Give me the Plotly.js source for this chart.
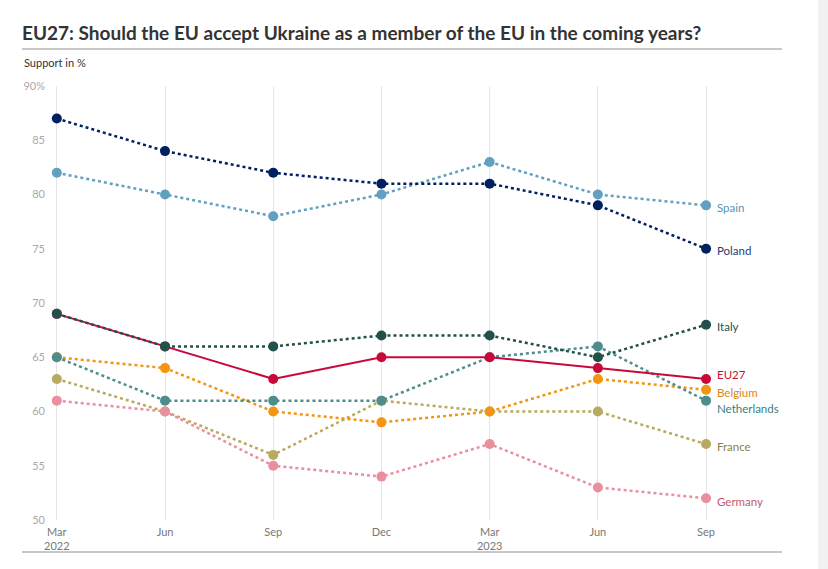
<!DOCTYPE html>
<html>
<head>
<meta charset="utf-8">
<script src="https://cdn.plot.ly/plotly-3.0.1.min.js"></script>
<style>
html,body{margin:0;padding:0;background:#fff;}
#chart{width:828px;height:569px;}
</style>
</head>
<body>
<div id="chart"></div>
<script>
// ---- data ----
const periods = ["Mar 2022", "Jun 2022", "Sep 2022", "Dec 2022", "Mar 2023", "Jun 2023", "Sep 2023"];
const tickLabels = ["Mar<br>2022", "Jun", "Sep", "Dec", "Mar<br>2023", "Jun", "Sep"];
const yTickVals = [50, 55, 60, 65, 70, 75, 80, 85, 90];
const yTickText = ["50", "55", "60", "65", "70", "75", "80", "85", "90%"];

const france      = [63, 60, 56, 61, 60, 60, 57];
const germany     = [61, 60, 55, 54, 57, 53, 52];
const belgium     = [65, 64, 60, 59, 60, 63, 62];
const netherlands = [65, 61, 61, 61, 65, 66, 61];
const eu27        = [69, 66, 63, 65, 65, 64, 63];
const italy       = [69, 66, 66, 67, 67, 65, 68];
const spain       = [82, 80, 78, 80, 83, 80, 79];
const poland      = [87, 84, 82, 81, 81, 79, 75];

const seriesNames = ["France", "Germany", "Belgium", "Netherlands", "EU27", "Italy", "Spain", "Poland"];
const seriesValues = [france, germany, belgium, netherlands, eu27, italy, spain, poland];

// ---- styles ----
const lineColors  = ["#b8aa5e", "#e98f9e", "#f39510", "#4f8d8c", "#c8083a", "#22504b", "#62a0c2", "#00205f"];
const labelColors = ["#8c8142", "#c25a6c", "#d9861a", "#3a8080", "#c8103e", "#2a4f4c", "#5a93b5", "#1f3b73"];
const dashes      = ["dot", "dot", "dot", "dot", "solid", "dot", "dot", "dot"];
const widths      = [2.5, 2.5, 2.5, 2.5, 2, 2.5, 2.5, 2.5];
const labelShift  = [-2, -3, -3, -8, 4, -2, -2, -2];

const xIdx = periods.map((_, i) => i);

const traces = seriesNames.map((name, k) => ({
  type: "scatter",
  mode: "lines+markers",
  name: name,
  x: xIdx,
  y: seriesValues[k],
  text: periods,
  line: {color: lineColors[k], width: widths[k], dash: dashes[k]},
  marker: {color: lineColors[k], size: 10},
  cliponaxis: false,
  hovertemplate: "%{text}: %{y}%<extra>" + name + "</extra>"
}));

const last = xIdx.length - 1;
const labelAnnotations = seriesNames.map((name, k) => ({
  x: last, y: seriesValues[k][last], xref: "x", yref: "y",
  text: name, showarrow: false, xanchor: "left", yanchor: "middle",
  xshift: 9, yshift: labelShift[k],
  font: {family: "Lato, 'Open Sans', sans-serif", size: 11.5, color: labelColors[k]}
}));

// plot area: x 46..771 px, y 86..520 px
const px = v => (v - 46) / 725;
const py = v => (520 - v) / 434;

const layout = {
  width: 828, height: 569,
  margin: {l: 46, r: 57, t: 86, b: 49},
  paper_bgcolor: "#ffffff",
  plot_bgcolor: "#ffffff",
  showlegend: false,
  font: {family: "Lato, 'Open Sans', sans-serif", color: "#333"},
  title: {
    text: "<b>EU27: Should the EU accept Ukraine as a member of the EU in the coming years?</b>",
    xref: "container", yref: "container",
    x: 22 / 828, xanchor: "left",
    y: 1 - 33 / 569, yanchor: "middle",
    font: {family: "Lato, 'Open Sans', sans-serif", size: 19, color: "#333333"}
  },
  xaxis: {
    range: [-0.1, 6.6],
    tickvals: xIdx,
    ticktext: tickLabels,
    showgrid: true, gridcolor: "#e6e6e6", gridwidth: 1,
    zeroline: false, showline: false, ticks: "",
    ticklabelstandoff: 4,
    tickfont: {family: "Lato, 'Open Sans', sans-serif", size: 11, color: "#777"},
    fixedrange: true
  },
  yaxis: {
    range: [50, 90],
    tickvals: yTickVals,
    ticktext: yTickText,
    showgrid: false, zeroline: false, showline: false, ticks: "",
    tickfont: {family: "Lato, 'Open Sans', sans-serif", size: 11, color: "#aaaaaa"},
    fixedrange: true
  },
  annotations: labelAnnotations.concat([
    {xref: "paper", yref: "paper", x: px(22), y: py(62), xanchor: "left", yanchor: "middle",
     text: "Support in %", showarrow: false,
     font: {family: "Lato, 'Open Sans', sans-serif", size: 11, color: "#333"}}
  ]),
  shapes: [
    {type: "line", xref: "paper", yref: "paper", x0: px(22), x1: px(782), y0: py(49), y1: py(49),
     line: {color: "#c8c8c8", width: 2}},
    {type: "line", xref: "paper", yref: "paper", x0: px(22), x1: px(782), y0: py(552), y1: py(552),
     line: {color: "#c8c8c8", width: 2}},
    {type: "rect", xref: "paper", yref: "paper", x0: px(818), x1: px(830), y0: py(-2), y1: py(571),
     line: {width: 0}, fillcolor: "#f1f1f1", layer: "below"}
  ]
};

Plotly.newPlot("chart", traces, layout, {displayModeBar: false, staticPlot: false});
</script>
</body>
</html>
